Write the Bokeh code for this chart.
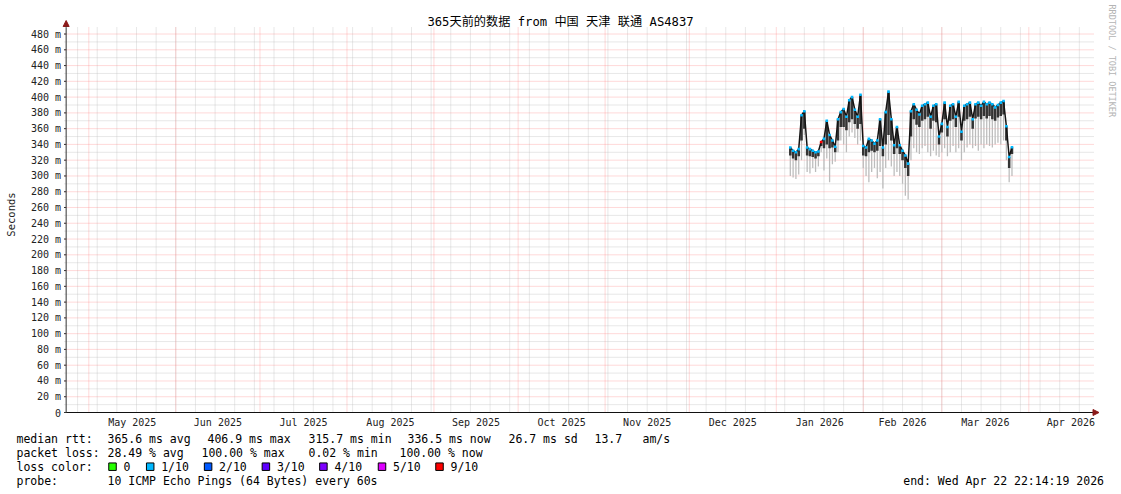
import math
import pandas as pd
from bokeh.plotting import figure
from bokeh.models import Range1d, Arrow, NormalHead, ColumnDataSource
from bokeh.core.properties import value
from bokeh.embed import file_html
from bokeh.resources import INLINE

# ---------------- data ----------------
title_text = "365天前的数据 from 中国 天津 联通 AS4837"
graph_end = "2026-04-22 22:14:19"
graph_days = 365
first_day = "2026-01-06"          # first day with data, one value per day after it

median_ms = [
    336, 332, 330, 334, 377, 382, 336, 334, 332, 330,
    331, 343, 347, 370, 352, 345, 337, 372, 381, 385,
    375, 396, 400, 384, 375, 403, 338, 336, 347, 345,
    341, 345, 372, 336, 381, 406.9, 372, 339, 362, 339,
    332, 326, 315.7, 382, 391, 384, 378, 389, 391, 393,
    375, 389, 391, 350, 366, 393, 362, 389, 391, 375,
    394, 356, 389, 391, 393, 372, 391, 393, 389, 394,
    391, 393, 391, 387, 390, 393, 395, 363, 324, 336.5,
]
dense_low_ms = [
    326, 322, 320, 325, 345, 360, 326, 325, 324, 322,
    325, 338, 335, 340, 335, 336, 330, 345, 362, 362,
    358, 368, 372, 366, 360, 366, 326, 325, 330, 332,
    330, 332, 338, 325, 340, 352, 345, 328, 335, 328,
    320, 310, 300, 350, 372, 365, 362, 370, 372, 375,
    360, 370, 368, 340, 355, 372, 350, 370, 372, 362,
    375, 345, 370, 372, 375, 360, 373, 375, 372, 376,
    373, 376, 372, 370, 374, 376, 378, 345, 310, 328,
]
smoke_low_ms = [
    300, 298, 296, 302, 320, 352, 305, 303, 310, 305,
    312, 330, 307, 322, 292, 315, 318, 330, 345, 340,
    330, 350, 355, 348, 340, 345, 310, 300, 292, 305,
    310, 297, 305, 284, 310, 320, 312, 300, 305, 300,
    290, 275, 270, 320, 335, 330, 328, 335, 338, 330,
    325, 332, 326, 324, 330, 335, 325, 330, 338, 330,
    335, 320, 330, 336, 340, 335, 338, 332, 340, 335,
    340, 338, 336, 340, 342, 340, 345, 320, 292, 300,
]
loss_tenths = [
    1, 1, 1, 1, 1, 1, 1, 1, 1, 1,
    1, 9, 1, 1, 1, 1, 1, 1, 1, 1,
    1, 1, 1, 1, 1, 1, 1, 1, 1, 1,
    1, 1, 1, 1, 1, 1, 1, 1, 1, 1,
    1, 1, 1, 1, 1, 1, 1, 1, 1, 1,
    1, 1, 1, 1, 1, 1, 1, 1, 1, 1,
    1, 1, 1, 1, 1, 1, 1, 1, 1, 1,
    1, 1, 1, 1, 1, 1, 1, 1, 1, 1,
]

month_labels = ["May 2025", "Jun 2025", "Jul 2025", "Aug 2025", "Sep 2025", "Oct 2025",
                "Nov 2025", "Dec 2025", "Jan 2026", "Feb 2026", "Mar 2026", "Apr 2026"]
y_tick_values = list(range(0, 481, 20))
y_tick_labels = ["0"] + [f"{v} m" for v in y_tick_values[1:]]
y_axis_title = "Seconds"
credit_text = "RRDTOOL / TOBI OETIKER"

loss_color_labels = ["0", "1/10", "2/10", "3/10", "4/10", "5/10", "9/10"]
loss_color_tenths = [0, 1, 2, 3, 4, 5, 9]
loss_color_values = ["#26ff00", "#00b8ff", "#0059ff", "#5e00ff", "#7e00ff", "#dd00ff", "#ff0000"]

row_heads = ["median rtt:", "packet loss:", "loss color:", "probe:"]
median_stats = ["365.6 ms avg", "406.9 ms max", "315.7 ms min", "336.5 ms now",
                "26.7 ms sd", "13.7", "am/s"]
loss_stats = ["28.49 % avg", "100.00 % max", "0.02 % min", "100.00 % now"]
probe_text = "10 ICMP Echo Pings (64 Bytes) every 60s"
end_text = "end: Wed Apr 22 22:14:19 2026"

# ---------------- layout constants (page pixels) / styles ----------------
DAY = 86400000.0
MONO = "'DejaVu Sans Mono', 'Noto Sans CJK SC'"
RED_GRID = "#ff8080"
GRAY_GRID = "#bdbdbd"
AXIS_COL = "#333333"
ARROW_COL = "#8b1a1a"
W, H = 1121, 494
X0_PX, Y0_PX = 65.65, 412.0     # page pixel of (start time, 0 ms)
PXD = 2.806                      # pixels per day
GRID_TOP_PX = 27.0
GRID_RIGHT_PX = 1093.0
ROW_Y = [438.3, 452.3, 466.2, 480.2]
MEDIAN_X = [107, 207, 308, 407, 508, 594, 642]
LOSS_X = [107, 201, 308, 399]
SQ_LEFT = [108, 145.7, 203.6, 261.4, 318.9, 377.5, 435]


def ms(ts):
    return pd.Timestamp(ts).value / 1e6


end_ms = ms(graph_end)
start_ms = end_ms - graph_days * DAY
y_grid_top = max(median_ms) * 1.2
PXU = (Y0_PX - GRID_TOP_PX) / y_grid_top          # pixels per ms of rtt


def xd(px):      # page x -> time
    return start_ms + (px - X0_PX) / PXD * DAY


def yd(py):      # page y -> rtt
    return (Y0_PX - py) / PXU


x_axis_end = xd(GRID_RIGHT_PX)

days = pd.date_range(first_day, periods=len(median_ms), freq="D")
day_ms = [d.value / 1e6 for d in days]
color_of = dict(zip(loss_color_tenths, loss_color_values))
src = ColumnDataSource(dict(
    x=day_ms, med=median_ms, dk=dense_low_ms, lo=smoke_low_ms,
    col=[color_of[v] for v in loss_tenths],
))

month_starts = pd.date_range("2025-05-01", graph_end, freq="MS")
month_ms = [d.value / 1e6 for d in month_starts]
mid_month_ms = [d.value / 1e6 + d.days_in_month * DAY / 2 for d in month_starts]
week_ms = [d.value / 1e6 for d in pd.date_range("2025-04-27", graph_end, freq="7D")]

# ---------------- figure: one frame over the whole canvas ----------------
p = figure(width=W, height=H, title=None,
           x_range=Range1d(xd(0), xd(W)), y_range=Range1d(yd(H), yd(0)),
           x_axis_location=None, y_axis_location=None,
           output_backend="svg", toolbar_location=None,
           min_border=0, min_border_left=0, min_border_right=0,
           min_border_top=0, min_border_bottom=0,
           background_fill_color="white", border_fill_color="white")
p.outline_line_color = None
p.xgrid.visible = False
p.ygrid.visible = False
p.extra_x_ranges = {"px": Range1d(0, W)}
p.extra_y_ranges = {"px": Range1d(H, 0)}
PX = dict(x_range_name="px", y_range_name="px")

# dotted grid: weekly / monthly, every 10 ms / 20 ms
gx_l = xd(64)
minor_y = list(range(10, 481, 20))
major_y = y_tick_values[1:]
GRID = dict(line_dash="1 1", line_width=1)
p.segment(x0=week_ms, y0=[0] * len(week_ms), x1=week_ms, y1=[y_grid_top] * len(week_ms),
          line_color=GRAY_GRID, line_alpha=0.7, **GRID)
p.segment(x0=[gx_l] * len(minor_y), y0=minor_y, x1=[x_axis_end] * len(minor_y), y1=minor_y,
          line_color=GRAY_GRID, line_alpha=0.7, **GRID)
p.segment(x0=month_ms, y0=[0] * len(month_ms), x1=month_ms, y1=[y_grid_top] * len(month_ms),
          line_color=RED_GRID, line_alpha=0.6, **GRID)
p.segment(x0=[gx_l] * len(major_y), y0=major_y, x1=[x_axis_end] * len(major_y), y1=major_y,
          line_color=RED_GRID, line_alpha=0.6, **GRID)

# smoke + median line + loss-coloured median marks
p.vbar(x="x", width=0.45 * DAY, bottom="lo", top="med", source=src,
       fill_color="#bcbcbc", line_color=None)
p.vbar(x="x", width=0.9 * DAY, bottom="dk", top="med", source=src,
       fill_color="#333333", line_color=None)
p.line(x="x", y="med", source=src, line_color="#141414", line_width=1.5)
p.scatter(x="x", y="med", source=src, marker="square", size=2.6,
          fill_color="col", line_color=None)

# y axis: line, ticks, labels, title
p.segment(x0=[start_ms], y0=[0], x1=[start_ms], y1=[y_grid_top], line_color=AXIS_COL)
p.segment(x0=[xd(63.5)] * len(y_tick_values), y0=y_tick_values,
          x1=[start_ms] * len(y_tick_values), y1=y_tick_values, line_color=AXIS_COL)
p.text(x=[xd(60.5)] * len(y_tick_values), y=y_tick_values, text=y_tick_labels,
       text_align="right", text_baseline="middle", text_font=value(MONO),
       text_font_size="10px", text_color="#222222")
p.text(x=[10.5], y=[214], text=[y_axis_title], angle=math.pi / 2,
       text_align="center", text_baseline="middle", text_font=value(MONO),
       text_font_size="10.5px", text_color="#222222", **PX)

# x axis: line, month labels
p.segment(x0=[start_ms], y0=[0], x1=[x_axis_end], y1=[0], line_color="#111111")
p.text(x=mid_month_ms, y=[yd(421.7)] * len(mid_month_ms), text=month_labels,
       text_align="center", text_baseline="middle", text_font=value(MONO),
       text_font_size="10px", text_color="#222222")

# axis arrows
p.add_layout(Arrow(end=NormalHead(size=6, fill_color=ARROW_COL, line_color=ARROW_COL),
                   x_start=start_ms, y_start=y_grid_top, x_end=start_ms, y_end=yd(20),
                   line_color=AXIS_COL, line_width=1))
p.add_layout(Arrow(end=NormalHead(size=6, fill_color=ARROW_COL, line_color=ARROW_COL),
                   x_start=x_axis_end, y_start=0, x_end=xd(1098.5), y_end=0,
                   line_color="#111111", line_width=1))

# title and credit
p.text(x=[560], y=[21], text=[title_text], text_align="center", text_baseline="middle",
       text_font=value(MONO), text_font_size="12.2px", text_color="#000000", **PX)
p.text(x=[1111.5], y=[4], text=[credit_text], angle=-math.pi / 2, text_align="left",
       text_baseline="middle", text_font=value(MONO), text_font_size="8.5px",
       text_color="#b4b4b4", **PX)

# ---------------- stats / legend block ----------------
TXT = dict(text_font=value(MONO), text_font_size="11.5px", text_baseline="middle",
           text_color="#000000", **PX)
p.text(x=[16] * 4, y=ROW_Y, text=row_heads, **TXT)
p.text(x=MEDIAN_X, y=[ROW_Y[0]] * len(median_stats), text=median_stats, **TXT)
p.text(x=LOSS_X, y=[ROW_Y[1]] * len(loss_stats), text=loss_stats, **TXT)
p.text(x=[107], y=[ROW_Y[3]], text=[probe_text], **TXT)
p.text(x=[1103.5], y=[ROW_Y[3]], text=[end_text], text_align="right", **TXT)

p.rect(x=[s + 4 for s in SQ_LEFT], y=[ROW_Y[2]] * len(SQ_LEFT), width=7.5, height=7.5,
       fill_color=loss_color_values, line_color="#000000", line_width=1, **PX)
p.text(x=[s + 15 for s in SQ_LEFT], y=[ROW_Y[2]] * len(SQ_LEFT), text=loss_color_labels,
       **TXT)

open("out.html", "w").write(file_html(p, INLINE))
